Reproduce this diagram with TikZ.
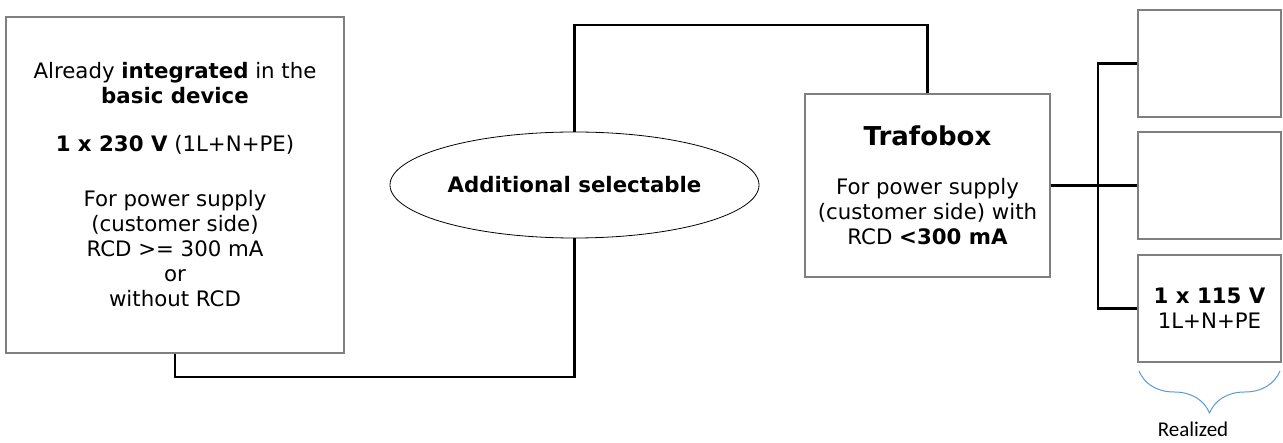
\documentclass[tikz,border=0pt]{standalone}
\usepackage{fontspec}
\setmainfont{DejaVu Sans}
\newfontfamily\calfont{Carlito}
\usetikzlibrary{shapes.geometric,decorations.pathreplacing}
\definecolor{boxgray}{HTML}{7F7F7F}
\definecolor{braceblue}{HTML}{5B9BD5}
\begin{document}
\begin{tikzpicture}[x=1pt,y=-1pt,
  box/.style={draw=boxgray, line width=1.2pt, inner sep=0pt, align=center,
    font=\fontsize{21.3}{25}\selectfont},
  wire/.style={draw=black, line width=2.4pt},
  oval/.style={ellipse, draw=black, line width=0.8pt, inner sep=0pt,
    minimum width=369pt, minimum height=106pt, font=\fontsize{21.3}{25}\selectfont\bfseries}]
\useasboundingbox (0,0) rectangle (1283,443);
\fill[white] (0,0) rectangle (1283,443);

\node[box, minimum width=338pt, minimum height=336pt] (left) at (175,185)
  {Already \textbf{integrated} in the\\ \textbf{basic device}\\[23pt]
   \textbf{1 x 230 V} (1L+N+PE)\\[30pt]
   For power supply\\ (customer side)\\ RCD >= 300 mA\\ or\\ without RCD};

\node[oval] (ell) at (574.5,185) {Additional selectable};

\node[box, minimum width=245pt, minimum height=183pt] (trafo) at (927.5,185.5)
  {{\fontsize{26}{30}\selectfont\bfseries Trafobox}\\[24pt]
   For power supply\\ (customer side) with\\ RCD \textbf{<300 mA}};

\node[box, minimum width=143pt, minimum height=107pt] (b1) at (1209.5,63.5) {};
\node[box, minimum width=143pt, minimum height=107pt] (b2) at (1209.5,185.5) {};
\node[box, minimum width=143pt, minimum height=107pt] (b3) at (1209.5,308.5)
  {\textbf{1 x 115 V}\\ 1L+N+PE};

\coordinate (bot) at (175,377);
\coordinate (top) at (574.5,25);
\coordinate (bus) at (1098,63.5);

\draw[wire] (left.south) -- (bot) -| (ell.south);
\draw[wire] (ell.north) -- (top) -| (trafo.north);
\draw[wire] (trafo.east) -- (b2.west);
\draw[wire] (b1.west) -- (bus) |- (b3.west);

\draw[braceblue, line width=1pt, decorate,
  decoration={brace, mirror, amplitude=42pt, aspect=0.5}]
  (1139,371) -- (1280,371);
\node[font=\calfont\fontsize{21}{23}\selectfont] (real) at (1193,429) {Realized};
\end{tikzpicture}
\end{document}
